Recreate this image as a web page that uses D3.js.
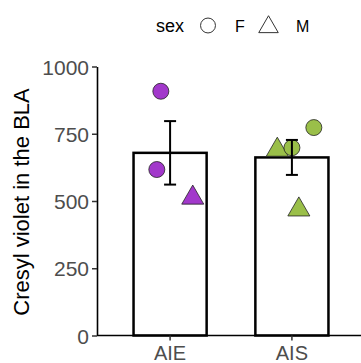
<!DOCTYPE html>
<html lang="en">
<head>
  <meta charset="UTF-8">
  <title>Cresyl violet</title>
  <script src="https://d3js.org/d3.v7.min.js"></script>
  <style>
    body { margin: 0; background: #fff; }
    text { font-family: "Liberation Sans", Arial, sans-serif; }
  </style>
</head>
<body>
  <svg></svg>
  <script>
    const groups = ["AIE", "AIS"];
    const means = [679, 662];
    const sems = [118, 65];
    const fills = ["#a238cb", "#9abf49"];

    // individual animals
    const pointGroup = ["AIE", "AIE", "AIE", "AIS", "AIS", "AIS", "AIS"];
    const pointSex = ["F", "F", "M", "M", "F", "F", "M"];
    const pointValue = [908, 617, 512, 690, 698, 773, 468];
    const pointJitter = [-0.076, -0.109, 0.186, -0.12, 0.0, 0.18, 0.057];

    const yTicks = [0, 250, 500, 750, 1000];
    const sexLevels = ["F", "M"];

    const width = 361, height = 363;
    const svg = d3.select("svg").attr("width", width).attr("height", height);

    // discrete x with ggplot-like 0.6 expansion
    const x = d3.scaleLinear().domain([0.4, 2.6]).range([97, 365]);
    const xPos = g => x(groups.indexOf(g) + 1);
    const barW = x(1.6) - x(1);
    const y = d3.scaleLinear().domain([0, 1000]).range([335.5, 66.5]);

    const shape = sex => sex === "F" ? d3.symbolCircle : d3.symbolTriangle;
    const size = sex => sex === "F" ? 201 : 210;

    // bars
    svg.append("g").selectAll("rect")
      .data(groups)
      .join("rect")
      .attr("x", (d, i) => xPos(d) - barW / 2)
      .attr("y", (d, i) => y(means[i]))
      .attr("width", barW)
      .attr("height", (d, i) => y(0) - y(means[i]))
      .attr("fill", "#fff")
      .attr("stroke", "#000")
      .attr("stroke-width", 2.5);

    // points
    svg.append("g").selectAll("path")
      .data(pointValue)
      .join("path")
      .attr("d", (d, i) => d3.symbol().type(shape(pointSex[i])).size(size(pointSex[i]))())
      .attr("transform", (d, i) => `translate(${x(groups.indexOf(pointGroup[i]) + 1 + pointJitter[i])},${y(d)})`)
      .attr("fill", (d, i) => fills[groups.indexOf(pointGroup[i])])
      .attr("stroke", "#222")
      .attr("stroke-width", 0.8);

    // error bars
    const eb = svg.append("g").attr("stroke", "#000").attr("stroke-width", 2);
    groups.forEach((g, i) => {
      const cx = xPos(g), lo = y(means[i] - sems[i]), hi = y(means[i] + sems[i]);
      eb.append("line").attr("x1", cx).attr("x2", cx).attr("y1", lo).attr("y2", hi);
      eb.append("line").attr("x1", cx - 6).attr("x2", cx + 6).attr("y1", lo).attr("y2", lo);
      eb.append("line").attr("x1", cx - 6).attr("x2", cx + 6).attr("y1", hi).attr("y2", hi);
    });

    // y axis
    const yAxis = svg.append("g")
      .attr("transform", "translate(97,0)")
      .call(d3.axisLeft(y).tickValues(yTicks).tickFormat(d3.format("d"))
        .tickSize(5).tickPadding(3).tickSizeOuter(0));
    yAxis.select(".domain").attr("stroke", "#000").attr("stroke-width", 1.6);
    yAxis.selectAll(".tick line").attr("stroke", "#333").attr("stroke-width", 1.5);
    yAxis.selectAll(".tick text").attr("fill", "#4d4d4d").attr("dy", "0.36em")
      .style("font-size", "21px")
      .style("font-family", "Liberation Sans, Arial, sans-serif");

    // x axis
    svg.append("line")
      .attr("x1", 97).attr("x2", 365).attr("y1", y(0)).attr("y2", y(0))
      .attr("stroke", "#000").attr("stroke-width", 1.6);
    const xg = svg.append("g");
    groups.forEach(g => {
      xg.append("line").attr("x1", xPos(g)).attr("x2", xPos(g))
        .attr("y1", y(0)).attr("y2", y(0) + 5)
        .attr("stroke", "#333").attr("stroke-width", 1.5);
      xg.append("text").attr("x", xPos(g)).attr("y", y(0) + 24)
        .attr("text-anchor", "middle").attr("fill", "#4d4d4d")
        .style("font-size", "20px").text(g);
    });

    // y title
    svg.append("text")
      .attr("transform", "translate(29,202) rotate(-90)")
      .attr("text-anchor", "middle")
      .style("font-size", "22px")
      .text("Cresyl violet in the BLA");

    // legend
    const lg = svg.append("g");
    lg.append("text").attr("x", 156).attr("y", 32).style("font-size", "18px").text("sex");
    const legX = [208, 268.5];
    const legTextX = [235, 296];
    sexLevels.forEach((s, i) => {
      lg.append("path")
        .attr("d", d3.symbol().type(shape(s)).size(s === "F" ? 175 : 165)())
        .attr("transform", `translate(${legX[i]},${s === "F" ? 25.5 : 27})`)
        .attr("fill", "none").attr("stroke", "#333").attr("stroke-width", 1);
      lg.append("text").attr("x", legTextX[i]).attr("y", 31.5)
        .style("font-size", "16px").text(s);
    });
  </script>
</body>
</html>
